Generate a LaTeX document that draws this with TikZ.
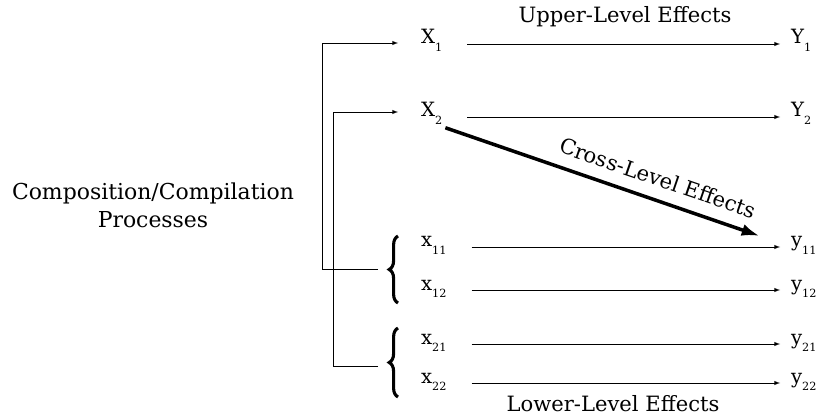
\documentclass[tikz,border=0pt]{standalone}
\usepackage{fontspec}
\setmainfont{DejaVu Serif}
\usetikzlibrary{decorations.pathreplacing, arrows.meta}

\newcommand{\lowsub}[1]{\raisebox{-0.75ex}{\fontsize{8}{9}\selectfont #1}}

\begin{document}
\begin{tikzpicture}[> = latex, x = 0.025cm, y = 0.025cm]

	% Definitions

	\def\XL{418}	% left edge of left variables
	\def\YR{788}	% left edge of right variables

	\tikzset{
		var/.style = {anchor = base west, inner sep = 2pt, font = \fontsize{14}{16}\selectfont},
		lbl/.style = {align = center, font = \fontsize{15}{19}\selectfont},
		effect/.style = {->, shorten <= 0.55cm, shorten >= 0.2cm},
		curly/.style = {decorate, decoration = {brace, amplitude = 0.22cm}, line width = 2.2pt}
	}

	\useasboundingbox (0, 0) rectangle (819, -418);

	% Variables (name / letter / subscript / baseline)

	\foreach \n/\t/\s/\y in {X1/X/1/44, X2/X/2/117, x11/x/11/247, x12/x/12/290, x21/x/21/344, x22/x/22/383}
		\node [var] (\n) at (\XL, -\y) {\t\lowsub{\s}};

	\foreach \n/\t/\s/\y in {Y1/Y/1/44, Y2/Y/2/117, y11/y/11/247, y12/y/12/290, y21/y/21/344, y22/y/22/383}
		\node [var] (\n) at (\YR, -\y) {\t\lowsub{\s}};

	% Effects

	\foreach \a/\b in {X1/Y1, X2/Y2, x11/y11, x12/y12, x21/y21, x22/y22}
		\draw [effect] (\a.base east) -- (\b.base west);

	\node [lbl] (up) at (625, -17) {Upper-Level Effects};
	\node [lbl] (low) at (613, -404) {Lower-Level Effects};

	\draw [-{Latex[length = 0.45cm, width = 0.3cm]}, line width = 2.5pt, shorten >= 0.75cm] (X2.south east) -- node [lbl, pos = 0.6, sloped, above = 5pt] (cross) {Cross-Level Effects} (y11.west);

	% Composition / compilation

	\node [lbl, font = \fontsize{15.6}{20}\selectfont] (comp) at (153, -205) {Composition/Compilation\\Processes};

	\coordinate (b1) at (378, -269);
	\coordinate (b2) at (378, -366);
	\coordinate (in1) at (398, -43);
	\coordinate (in2) at (398, -112);

	\draw [->] (b1) -- ++(-56, 0) |- (in1);
	\draw [->] (b2) -- ++(-45, 0) |- (in2);

	\draw [curly] (398, -303) -- (398, -236);
	\draw [curly] (398, -397) -- (398, -328);

\end{tikzpicture}
\end{document}
